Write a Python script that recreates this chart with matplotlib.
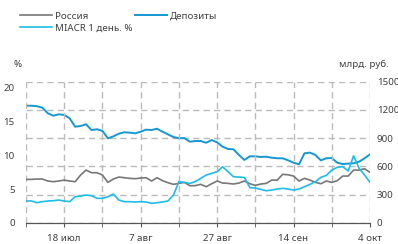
import matplotlib
matplotlib.use("Agg")
import matplotlib.pyplot as plt
from matplotlib.ticker import FixedLocator

# business days 9 Jul .. 4 Oct
tick_labels = ["18 июл", "7 авг", "27 авг", "14 сен", "4 окт"]
tick_pos = [7, 21, 35, 49, 63]

russia = [6.42, 6.42, 6.47, 6.47, 6.18, 6.08, 6.18, 6.32, 6.18, 6.08,
          7.06, 7.79, 7.40, 7.40, 7.06, 5.98, 6.47, 6.76, 6.67, 6.57,
          6.52, 6.62, 6.67, 6.18, 6.67, 6.23, 5.93, 5.69, 5.83, 5.98,
          5.49, 5.50, 5.69, 5.34, 5.78, 6.18, 5.88, 5.83, 5.74, 5.88,
          6.18, 5.78, 5.54, 5.74, 5.83, 6.32, 6.30, 7.16, 7.10, 6.91,
          6.18, 6.57, 6.32, 5.98, 5.78, 6.18, 5.98, 6.23, 6.91, 6.91,
          7.79, 7.79, 7.99, 7.45]

miacr = [3.24, 3.24, 2.99, 3.14, 3.24, 3.28, 3.38, 3.24, 3.14, 3.87,
         3.97, 4.12, 4.02, 3.63, 3.63, 3.87, 4.26, 3.38, 3.14, 3.14,
         3.09, 3.14, 3.09, 2.89, 2.99, 3.09, 3.24, 4.12, 6.08, 5.98,
         5.83, 6.10, 6.57, 7.06, 7.30, 7.55, 8.28, 7.55, 6.81, 6.76,
         6.70, 5.20, 5.15, 4.95, 4.75, 4.85, 5.00, 5.10, 5.00, 4.85,
         5.00, 5.34, 5.69, 6.08, 6.72, 7.01, 7.79, 8.20, 8.30, 7.65,
         9.90, 8.04, 7.06, 5.98]

deposits = [1245, 1245, 1240, 1224, 1165, 1139, 1154, 1147, 1111, 1022,
            1030, 1048, 987, 995, 977, 899, 920, 948, 963, 959,
            952, 969, 991, 987, 1001, 969, 941, 913, 899, 902,
            863, 870, 870, 852, 881, 856, 810, 786, 782, 722,
            669, 708, 708, 701, 704, 693, 687, 687, 665, 640,
            623, 740, 747, 722, 665, 687, 690, 640, 626, 630,
            634, 651, 687, 729]

c_grey = "#777777"
c_dep = "#1597d3"
c_mia = "#1cbdea"
c_txt = "#404040"
c_grid = "#bbbbbb"

plt.rcParams["font.family"] = ["Noto Sans", "DejaVu Sans"]
fig = plt.figure(figsize=(3.98, 2.44), dpi=100)
ax = fig.add_axes([26 / 398, 21 / 244, 344 / 398, 141.3 / 244])
ax2 = ax.twinx()

x = list(range(len(russia)))
ax.plot(x, russia, color=c_grey, lw=1.2, label="Россия")
ax.plot(x, miacr, color=c_mia, lw=1.2, label="MIACR 1 день. %")
ax2.plot(x, deposits, color=c_dep, lw=1.4, label="Депозиты")

ax.set_xlim(0, 63)
ax.set_ylim(0, 20.8)
ax2.set_ylim(0, 1500)

# grid from right axis, vertical every 7 days
ax2.set_yticks([0, 300, 600, 900, 1200, 1500])
ax2.grid(axis="y", color=c_grid, ls=(0, (4.5, 3)), lw=1.0)
ax.set_yticks([0, 5, 10, 15, 20])
ax.xaxis.set_minor_locator(FixedLocator(list(range(0, 64, 7))))
ax.set_xticks(tick_pos)
ax.set_xticklabels(tick_labels)
ax.grid(axis="x", which="both", color=c_grid, ls=(0, (4.5, 3)), lw=1.0)

for a in (ax, ax2):
    for s in ("top", "left", "right"):
        a.spines[s].set_visible(False)
    a.spines["bottom"].set_color("#555555")
    a.tick_params(labelsize=7, colors=c_txt)
ax.tick_params(axis="y", length=0, pad=8)
ax2.tick_params(axis="y", length=0, pad=5)
ax.tick_params(axis="x", which="both", length=3, color="#555555", pad=5)
ax.set_zorder(ax2.get_zorder() + 1)
ax.patch.set_visible(False)

fig.text(18 / 398, 1 - 64 / 244, "%", fontsize=7, color=c_txt, ha="center", va="center")
fig.text(364 / 398, 1 - 64 / 244, "млрд. руб.", fontsize=7, color=c_txt, ha="center", va="center")

h1, l1 = ax.get_legend_handles_labels()
h2, l2 = ax2.get_legend_handles_labels()
fig.legend(h1 + h2, l1 + l2, ncol=2, loc="upper left", bbox_to_anchor=(16 / 398, 1 - 8 / 244),
           frameon=False, fontsize=7, handlelength=3.3, handletextpad=0.3,
           columnspacing=0.3, labelspacing=0.3, borderaxespad=0, labelcolor=c_txt)

fig.savefig("out.png", dpi=100)
